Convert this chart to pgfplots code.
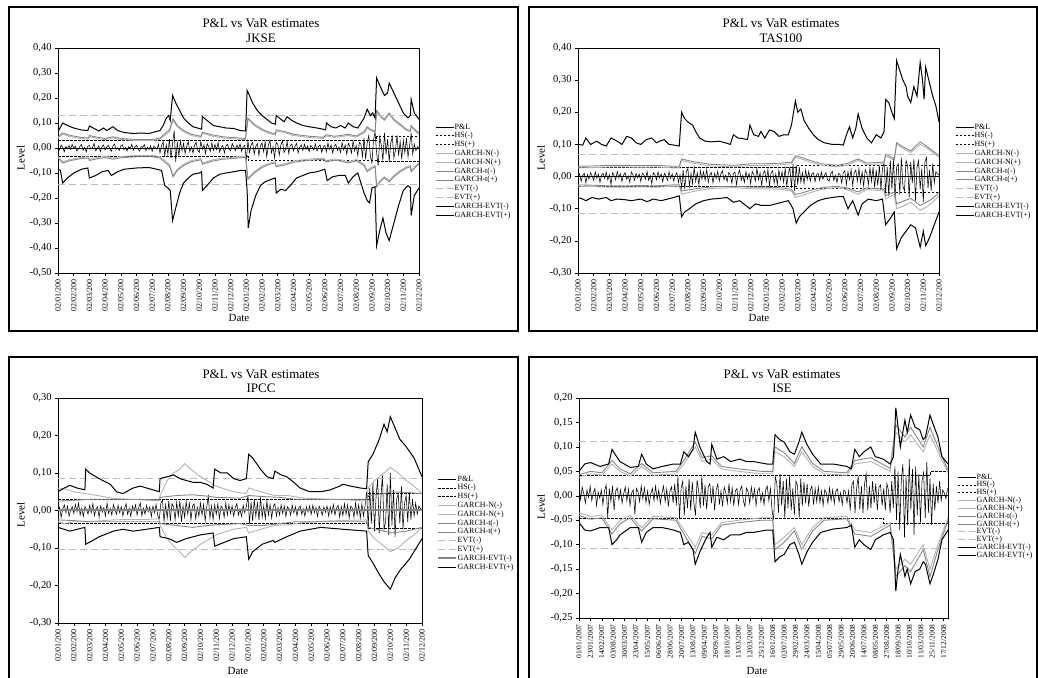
\documentclass[border=0pt]{standalone}
\usepackage{pgfplots}
\pgfplotsset{compat=1.18}
\usepackage{fontspec}
\setmainfont{Liberation Serif}
\definecolor{gN}{gray}{0.70}
\definecolor{gT}{gray}{0.52}
\definecolor{gE}{gray}{0.74}
\pgfplotsset{
  varstyle/.style={
    scale only axis,
    axis line style={black, line width=0.6bp},
    tick align=outside, major tick length=3bp,
    tick style={black, line width=0.5bp},
    xtick pos=bottom, ytick pos=left,
    yticklabel style={font=\fontsize{10.5}{12}\selectfont},
    xticklabel style={font=\fontsize{8}{9}\selectfont, rotate=90, anchor=east},
    legend style={draw=none, fill=none, font=\fontsize{8}{9}\selectfont, anchor=north west,
      row sep=0.6bp, inner sep=0pt, nodes={inner sep=0.6bp}},
    legend cell align=left,
    legend image code/.code={\draw[#1] (0bp,0bp) -- (18bp,0bp);},
    legend entries={P\&L,HS(-),HS(+),GARCH-N(-),GARCH-N(+),GARCH-t(-),GARCH-t(+),EVT(-),EVT(+),GARCH-EVT(-),GARCH-EVT(+)},
  },
  monthticks/.style={xmin=0, xmax=23, xtick={0,...,23},
    xticklabels={02/01/200,02/02/200,02/03/200,02/04/200,02/05/200,02/06/200,02/07/200,02/08/200,02/09/200,02/10/200,02/11/200,02/12/200,02/01/200,02/02/200,02/03/200,02/04/200,02/05/200,02/06/200,02/07/200,02/08/200,02/09/200,02/10/200,02/11/200,02/12/200}},
  pl/.style={black, line width=0.55bp},
  hs/.style={black, line width=0.7bp, dash pattern=on 2.5bp off 1.5bp},
  gn/.style={gN, line width=0.9bp},
  gt/.style={gT, line width=0.9bp},
  evt/.style={gE, line width=0.9bp, dash pattern=on 7bp off 4bp},
  ge/.style={black, line width=1bp},
  zl/.style={black, line width=0.7bp, forget plot},
}
\begin{document}
\begin{tikzpicture}
\useasboundingbox (0,0) rectangle (1038bp,678bp);
\clip (0,0) rectangle (1038bp,678bp);
% frames
\draw[line width=1.2bp] (9bp,671bp) rectangle (518bp,347bp);
\draw[line width=1.2bp] (529bp,671bp) rectangle (1037bp,347bp);
\draw[line width=1.2bp] (9bp,321bp) rectangle (518bp,-5bp);
\draw[line width=1.2bp] (529bp,321bp) rectangle (1037bp,-5bp);
% titles and labels
\begin{scope}[every node/.style={font=\fontsize{13}{15}\selectfont}]
\node at (261bp,655bp) {P\&L vs VaR estimates};
\node at (261bp,640bp) {JKSE};
\node at (781bp,655bp) {P\&L vs VaR estimates};
\node at (781bp,640bp) {TAS100};
\node at (261bp,304bp) {P\&L vs VaR estimates};
\node at (261bp,290bp) {IPCC};
\node at (782bp,304bp) {P\&L vs VaR estimates};
\node at (782bp,290bp) {ISE};
\end{scope}
\begin{scope}[every node/.style={font=\fontsize{11}{13}\selectfont}]
\node[rotate=90] at (21bp,520bp) {Level};
\node[rotate=90] at (541bp,520bp) {Level};
\node[rotate=90] at (21bp,163bp) {Level};
\node[rotate=90] at (541bp,171bp) {Level};
\node at (239bp,360bp) {Date};
\node at (759bp,360bp) {Date};
\node at (238bp,7.5bp) {Date};
\node at (757bp,7.5bp) {Date};
\end{scope}

%================ JKSE
\begin{axis}[varstyle, monthticks, at={(58bp,405bp)}, anchor=south west,
  width=361bp, height=225bp, ymin=-0.5, ymax=0.4,
  ytick={-0.5,-0.4,-0.3,-0.2,-0.1,0,0.1,0.2,0.3,0.4},
  yticklabels={{-0,50},{-0,40},{-0,30},{-0,20},{-0,10},{0,00},{0,10},{0,20},{0,30},{0,40}},
  legend style={at={(1.044,0.667)}}]
\addplot[zl] coordinates {(0,0) (23,0)};
\addplot[pl] table[row sep=crcr, header=false, x expr=\coordindex*0.1, y index=0] {
0.004\\-0.008\\0.012\\0.002\\-0.015\\0.006\\-0.003\\0.010\\-0.006\\0.015\\
-0.002\\0.008\\-0.012\\-0.004\\0.006\\0.014\\-0.009\\0.003\\-0.016\\0.007\\
0.010\\-0.005\\0.002\\0.018\\-0.011\\-0.003\\0.009\\-0.014\\0.005\\0.012\\
-0.008\\0.003\\0.011\\-0.002\\-0.013\\0.007\\0.016\\-0.006\\0.001\\-0.010\\
0.008\\0.013\\-0.007\\0.002\\-0.012\\0.005\\-0.003\\0.015\\-0.009\\0.004\\
0.011\\-0.004\\-0.012\\0.006\\0.002\\0.014\\-0.010\\0.003\\-0.006\\0.009\\
-0.013\\0.007\\0.002\\-0.005\\0.015\\-0.020\\0.010\\0.024\\-0.030\\0.012\\
-0.025\\0.035\\-0.040\\0.018\\0.070\\-0.055\\0.020\\-0.030\\0.028\\-0.012\\
0.018\\-0.022\\0.008\\0.025\\-0.015\\0.004\\-0.020\\0.012\\0.022\\-0.008\\
-0.018\\0.026\\-0.005\\0.012\\-0.022\\0.018\\0.006\\-0.014\\0.020\\-0.010\\
0.014\\-0.006\\0.022\\-0.016\\0.003\\0.010\\-0.020\\0.008\\0.015\\-0.005\\
-0.012\\0.018\\0.004\\-0.010\\0.012\\-0.003\\0.016\\-0.014\\0.006\\0.010\\
-0.050\\0.028\\-0.018\\0.012\\0.022\\-0.025\\0.006\\0.018\\-0.030\\0.010\\
0.020\\-0.015\\0.025\\-0.035\\0.010\\0.030\\-0.020\\0.005\\-0.040\\0.022\\
0.015\\-0.028\\0.012\\0.030\\-0.018\\-0.005\\0.025\\-0.022\\0.010\\0.016\\
-0.012\\0.006\\0.018\\-0.020\\0.004\\0.012\\-0.010\\0.015\\-0.006\\0.008\\
-0.014\\0.010\\0.003\\-0.008\\0.016\\-0.012\\0.006\\0.012\\-0.018\\0.004\\
0.010\\-0.015\\0.020\\-0.006\\0.012\\-0.020\\0.008\\0.015\\-0.010\\0.004\\
-0.018\\0.022\\-0.008\\0.012\\-0.025\\0.018\\0.005\\-0.020\\0.028\\-0.012\\
0.010\\-0.030\\0.022\\0.015\\-0.035\\0.040\\-0.045\\0.020\\0.050\\-0.030\\
-0.060\\0.030\\0.065\\-0.020\\-0.070\\0.045\\0.010\\-0.050\\0.060\\-0.025\\
0.035\\-0.055\\0.020\\0.045\\-0.040\\-0.010\\0.050\\-0.030\\0.025\\-0.045\\
0.030\\-0.020\\0.040\\-0.035\\0.010\\0.060\\-0.025\\0.015\\-0.010\\0.005\\
0.002\\};
\addplot[hs] coordinates {(0,-0.035) (12.1,-0.035) (12.1,-0.048) (20.3,-0.048) (20.3,-0.055) (23,-0.055)};
\addplot[hs] coordinates {(0,0.032) (20.3,0.032) (20.3,0.045) (23,0.045)};
\addplot[gn] coordinates {(0,-0.035) (0.3,-0.055) (0.8,-0.045) (1.5,-0.037) (1.95,-0.035) (2.0,-0.045) (2.5,-0.038) (3.0,-0.033) (3.5,-0.04) (4.0,-0.034) (5.0,-0.03) (6.0,-0.03) (6.5,-0.035) (6.9,-0.055) (7.1,-0.065) (7.33,-0.11) (7.6,-0.085) (8.0,-0.065) (8.5,-0.05) (9.1,-0.042) (9.2,-0.06) (9.8,-0.048) (10.5,-0.04) (11.5,-0.035) (11.95,-0.033) (12.1,-0.12) (12.5,-0.095) (13.0,-0.072) (13.5,-0.06) (13.85,-0.055) (13.9,-0.07) (14.5,-0.062) (15.0,-0.052) (16.0,-0.044) (16.9,-0.04) (17.1,-0.05) (17.6,-0.044) (18.0,-0.047) (18.5,-0.055) (19.0,-0.046) (19.5,-0.065) (19.7,-0.09) (19.9,-0.08) (20.2,-0.07) (20.3,-0.15) (20.6,-0.125) (20.8,-0.115) (21.1,-0.13) (21.4,-0.11) (21.8,-0.09) (22.2,-0.075) (22.45,-0.07) (22.5,-0.09) (22.8,-0.07) (23,-0.06)};
\addplot[gn] coordinates {(0,0.04) (0.3,0.055) (0.8,0.045) (1.5,0.037) (1.95,0.035) (2.0,0.045) (2.5,0.038) (3.0,0.033) (3.5,0.04) (4.0,0.034) (5.0,0.03) (6.0,0.03) (6.5,0.035) (6.9,0.055) (7.1,0.065) (7.33,0.11) (7.6,0.085) (8.0,0.065) (8.5,0.05) (9.1,0.042) (9.2,0.058) (9.8,0.048) (10.5,0.04) (11.5,0.035) (11.95,0.033) (12.1,0.115) (12.5,0.09) (13.0,0.07) (13.5,0.057) (13.85,0.052) (13.9,0.068) (14.5,0.06) (15.0,0.05) (16.0,0.042) (16.9,0.038) (17.1,0.048) (17.6,0.042) (18.0,0.045) (18.5,0.05) (19.0,0.043) (19.5,0.06) (19.7,0.08) (19.9,0.07) (20.2,0.062) (20.3,0.145) (20.6,0.12) (20.8,0.11) (21.1,0.135) (21.4,0.11) (21.8,0.09) (22.2,0.07) (22.45,0.065) (22.5,0.085) (22.8,0.065) (23,0.055)};
\addplot[gt] coordinates {(0,-0.04) (0.3,-0.06) (0.8,-0.05) (1.5,-0.042) (1.95,-0.04) (2.0,-0.05) (2.5,-0.043) (3.0,-0.038) (3.5,-0.045) (4.0,-0.039) (5.0,-0.035) (6.0,-0.035) (6.5,-0.04) (6.9,-0.062) (7.1,-0.072) (7.33,-0.115) (7.6,-0.09) (8.0,-0.07) (8.5,-0.055) (9.1,-0.047) (9.2,-0.065) (9.8,-0.053) (10.5,-0.045) (11.5,-0.04) (11.95,-0.038) (12.1,-0.125) (12.5,-0.1) (13.0,-0.078) (13.5,-0.065) (13.85,-0.06) (13.9,-0.075) (14.5,-0.067) (15.0,-0.057) (16.0,-0.049) (16.9,-0.045) (17.1,-0.055) (17.6,-0.049) (18.0,-0.052) (18.5,-0.06) (19.0,-0.051) (19.5,-0.07) (19.7,-0.095) (19.9,-0.085) (20.2,-0.075) (20.3,-0.155) (20.6,-0.13) (20.8,-0.12) (21.1,-0.135) (21.4,-0.115) (21.8,-0.095) (22.2,-0.08) (22.45,-0.075) (22.5,-0.095) (22.8,-0.075) (23,-0.065)};
\addplot[gt] coordinates {(0,0.045) (0.3,0.06) (0.8,0.05) (1.5,0.042) (1.95,0.04) (2.0,0.05) (2.5,0.043) (3.0,0.038) (3.5,0.045) (4.0,0.038) (5.0,0.034) (6.0,0.034) (6.5,0.04) (6.9,0.062) (7.1,0.072) (7.33,0.118) (7.6,0.09) (8.0,0.07) (8.5,0.055) (9.1,0.047) (9.2,0.063) (9.8,0.053) (10.5,0.045) (11.5,0.04) (11.95,0.038) (12.1,0.12) (12.5,0.095) (13.0,0.075) (13.5,0.062) (13.85,0.057) (13.9,0.073) (14.5,0.065) (15.0,0.055) (16.0,0.047) (16.9,0.043) (17.1,0.053) (17.6,0.047) (18.0,0.05) (18.5,0.055) (19.0,0.048) (19.5,0.065) (19.7,0.085) (19.9,0.075) (20.2,0.067) (20.3,0.15) (20.6,0.125) (20.8,0.115) (21.1,0.14) (21.4,0.115) (21.8,0.095) (22.2,0.075) (22.45,0.07) (22.5,0.09) (22.8,0.07) (23,0.06)};
\addplot[evt] coordinates {(0,-0.147) (23,-0.147)};
\addplot[evt] coordinates {(0,0.131) (23,0.131)};
\addplot[ge] coordinates {(0,-0.085) (0.15,-0.09) (0.3,-0.14) (0.6,-0.12) (1.0,-0.1) (1.5,-0.085) (1.9,-0.08) (2.0,-0.12) (2.4,-0.11) (2.8,-0.095) (3.2,-0.09) (3.4,-0.11) (3.8,-0.095) (4.2,-0.085) (5.0,-0.08) (5.8,-0.078) (6.3,-0.085) (6.6,-0.09) (6.8,-0.15) (7.0,-0.16) (7.15,-0.17) (7.3,-0.29) (7.5,-0.24) (7.75,-0.18) (8.0,-0.14) (8.3,-0.12) (8.6,-0.105) (9.0,-0.1) (9.15,-0.095) (9.2,-0.17) (9.5,-0.15) (9.9,-0.12) (10.3,-0.105) (10.7,-0.1) (11.2,-0.095) (11.6,-0.09) (11.95,-0.09) (12.05,-0.17) (12.12,-0.32) (12.3,-0.25) (12.6,-0.19) (12.9,-0.15) (13.2,-0.135) (13.6,-0.125) (13.85,-0.12) (13.9,-0.18) (14.2,-0.165) (14.5,-0.17) (14.8,-0.15) (15.2,-0.12) (15.6,-0.11) (16.0,-0.1) (16.5,-0.095) (17.0,-0.085) (17.15,-0.13) (17.5,-0.115) (17.9,-0.11) (18.3,-0.11) (18.5,-0.14) (18.8,-0.115) (19.1,-0.1) (19.3,-0.14) (19.5,-0.18) (19.7,-0.21) (19.85,-0.22) (20.0,-0.16) (20.2,-0.155) (20.3,-0.39) (20.5,-0.33) (20.7,-0.28) (20.9,-0.34) (21.1,-0.37) (21.4,-0.3) (21.7,-0.23) (22.0,-0.17) (22.3,-0.15) (22.45,-0.16) (22.5,-0.27) (22.7,-0.19) (23.0,-0.16)};
\addplot[ge] coordinates {(0,0.065) (0.3,0.10) (0.6,0.09) (1.0,0.08) (1.5,0.072) (1.9,0.07) (2.0,0.088) (2.3,0.078) (2.6,0.068) (2.9,0.08) (3.1,0.07) (3.5,0.085) (3.8,0.07) (4.2,0.062) (4.8,0.058) (5.3,0.06) (5.8,0.058) (6.2,0.065) (6.5,0.07) (6.7,0.09) (6.9,0.12) (7.05,0.13) (7.15,0.11) (7.3,0.21) (7.5,0.18) (7.75,0.15) (8.0,0.12) (8.3,0.1) (8.6,0.085) (9.0,0.078) (9.15,0.075) (9.2,0.125) (9.5,0.11) (9.9,0.09) (10.3,0.085) (10.7,0.08) (11.2,0.078) (11.6,0.07) (11.95,0.068) (12.05,0.23) (12.2,0.21) (12.4,0.18) (12.7,0.15) (13.0,0.13) (13.3,0.115) (13.6,0.1) (13.85,0.095) (13.9,0.13) (14.2,0.115) (14.4,0.105) (14.6,0.125) (14.9,0.11) (15.2,0.1) (15.6,0.09) (16.0,0.085) (16.5,0.08) (16.9,0.075) (17.05,0.072) (17.1,0.1) (17.4,0.085) (17.7,0.08) (18.0,0.09) (18.3,0.08) (18.5,0.1) (18.8,0.085) (19.1,0.08) (19.3,0.1) (19.5,0.12) (19.7,0.155) (19.9,0.13) (20.05,0.14) (20.2,0.12) (20.3,0.28) (20.5,0.25) (20.8,0.21) (21.0,0.22) (21.1,0.26) (21.4,0.22) (21.7,0.18) (22.0,0.14) (22.3,0.12) (22.45,0.13) (22.5,0.195) (22.7,0.14) (23.0,0.115)};
\end{axis}

%================ TAS100
\begin{axis}[varstyle, monthticks, at={(578bp,405bp)}, anchor=south west,
  width=361bp, height=225bp, ymin=-0.3, ymax=0.4,
  ytick={-0.3,-0.2,-0.1,0,0.1,0.2,0.3,0.4},
  yticklabels={{-0,30},{-0,20},{-0,10},{0,00},{0,10},{0,20},{0,30},{0,40}},
  legend style={at={(1.044,0.667)}}]
\addplot[zl] coordinates {(0,0) (23,0)};
\addplot[pl] table[row sep=crcr, header=false, x expr=\coordindex*0.1, y index=0] {
-0.003\\0.008\\-0.015\\0.004\\0.010\\-0.020\\0.006\\-0.008\\0.012\\0.002\\
-0.012\\0.015\\-0.005\\0.008\\-0.018\\0.004\\0.010\\-0.006\\0.014\\-0.010\\
0.006\\-0.025\\0.012\\0.003\\-0.010\\0.016\\-0.004\\0.009\\-0.015\\0.005\\
0.012\\-0.008\\0.002\\-0.018\\0.014\\0.006\\-0.012\\0.010\\-0.004\\0.008\\
-0.015\\0.010\\0.005\\-0.008\\0.016\\-0.012\\0.003\\-0.022\\0.012\\0.006\\
-0.010\\0.014\\-0.004\\0.008\\-0.016\\0.010\\0.002\\-0.012\\0.015\\-0.006\\
0.009\\-0.014\\0.004\\0.012\\-0.018\\0.006\\-0.035\\0.020\\-0.040\\0.015\\
0.025\\-0.030\\0.010\\-0.022\\0.028\\-0.015\\0.012\\-0.025\\0.018\\-0.008\\
0.015\\-0.012\\0.022\\-0.018\\0.006\\0.012\\-0.020\\0.010\\-0.006\\0.016\\
-0.014\\0.008\\0.018\\-0.010\\0.004\\-0.016\\0.012\\0.006\\-0.020\\0.010\\
0.014\\-0.025\\0.008\\0.020\\-0.012\\0.004\\-0.018\\0.015\\-0.008\\0.010\\
-0.022\\0.016\\0.006\\-0.014\\0.025\\-0.010\\0.012\\-0.028\\0.010\\0.018\\
-0.015\\0.022\\-0.030\\0.012\\0.018\\-0.020\\0.008\\-0.025\\0.020\\-0.010\\
0.015\\-0.018\\0.025\\-0.030\\0.010\\0.028\\-0.035\\0.040\\-0.045\\0.035\\
-0.025\\0.030\\-0.018\\0.012\\-0.022\\0.020\\-0.010\\0.016\\-0.014\\0.008\\
0.012\\-0.016\\0.006\\0.010\\-0.012\\0.014\\-0.008\\0.004\\0.012\\-0.010\\
-0.014\\0.008\\0.016\\-0.012\\0.004\\-0.018\\0.010\\0.006\\-0.020\\0.012\\
0.018\\-0.025\\0.015\\-0.010\\0.022\\-0.028\\0.012\\0.020\\-0.015\\0.025\\
-0.020\\0.015\\-0.030\\0.022\\0.010\\-0.025\\0.028\\-0.015\\0.030\\-0.035\\
0.020\\-0.028\\0.035\\-0.040\\0.025\\0.045\\-0.050\\0.030\\-0.060\\0.050\\
-0.040\\0.055\\-0.070\\0.030\\0.040\\-0.055\\0.060\\-0.030\\-0.045\\0.050\\
0.035\\-0.065\\0.045\\-0.020\\0.055\\-0.075\\0.030\\0.050\\-0.040\\0.025\\
-0.080\\0.045\\0.060\\-0.035\\0.020\\-0.045\\0.040\\-0.020\\0.015\\0.008\\
0.005\\};
\addplot[hs] coordinates {(0,-0.03) (13.9,-0.03) (13.9,-0.037) (19.6,-0.037) (19.6,-0.05) (23,-0.05)};
\addplot[hs] coordinates {(0,0.03) (13.9,0.03) (13.9,0.034) (23,0.034)};
\addplot[gn] coordinates {(0,-0.03) (1,-0.031) (2,-0.033) (3,-0.033) (4,-0.032) (5,-0.033) (6,-0.03) (6.45,-0.03) (6.6,-0.055) (7.0,-0.05) (7.5,-0.045) (8.5,-0.037) (10,-0.034) (11,-0.038) (12,-0.038) (13,-0.04) (13.6,-0.045) (13.85,-0.065) (14.2,-0.06) (14.8,-0.05) (15.5,-0.04) (16.5,-0.034) (17.1,-0.04) (17.85,-0.055) (18.4,-0.04) (19.5,-0.045) (19.6,-0.07) (20.15,-0.055) (20.3,-0.1) (20.8,-0.09) (21.2,-0.08) (21.8,-0.105) (22.2,-0.095) (22.6,-0.08) (23,-0.06)};
\addplot[gn] coordinates {(0,0.027) (1,0.028) (2,0.03) (3,0.03) (4,0.029) (5,0.03) (6,0.027) (6.45,0.027) (6.6,0.05) (7.0,0.045) (7.5,0.04) (8.5,0.033) (10,0.03) (11,0.035) (12,0.035) (13,0.037) (13.6,0.04) (13.85,0.06) (14.2,0.055) (14.8,0.045) (15.5,0.035) (16.5,0.03) (17.1,0.035) (17.85,0.05) (18.4,0.037) (19.5,0.04) (19.6,0.065) (20.15,0.05) (20.3,0.1) (20.8,0.085) (21.2,0.075) (21.8,0.1) (22.2,0.09) (22.6,0.075) (23,0.06)};
\addplot[gt] coordinates {(0,-0.026) (1,-0.027) (2,-0.029) (3,-0.029) (4,-0.028) (5,-0.029) (6,-0.026) (6.45,-0.026) (6.6,-0.045) (7.0,-0.042) (7.5,-0.038) (8.5,-0.032) (10,-0.03) (11,-0.033) (12,-0.033) (13,-0.035) (13.6,-0.04) (13.85,-0.056) (14.2,-0.052) (14.8,-0.043) (15.5,-0.035) (16.5,-0.03) (17.1,-0.035) (17.85,-0.048) (18.4,-0.035) (19.5,-0.04) (19.6,-0.06) (20.15,-0.048) (20.3,-0.085) (20.8,-0.075) (21.2,-0.068) (21.8,-0.09) (22.2,-0.08) (22.6,-0.068) (23,-0.05)};
\addplot[gt] coordinates {(0,0.032) (1,0.033) (2,0.035) (3,0.035) (4,0.034) (5,0.035) (6,0.032) (6.45,0.032) (6.6,0.055) (7.0,0.05) (7.5,0.045) (8.5,0.038) (10,0.035) (11,0.04) (12,0.04) (13,0.042) (13.6,0.045) (13.85,0.065) (14.2,0.06) (14.8,0.05) (15.5,0.04) (16.5,0.035) (17.1,0.04) (17.85,0.055) (18.4,0.042) (19.5,0.045) (19.6,0.07) (20.15,0.055) (20.3,0.105) (20.8,0.09) (21.2,0.08) (21.8,0.108) (22.2,0.095) (22.6,0.08) (23,0.065)};
\addplot[evt] coordinates {(0,-0.115) (23,-0.115)};
\addplot[evt] coordinates {(0,0.07) (23,0.07)};
\addplot[ge] coordinates {(0,-0.065) (0.3,-0.07) (0.5,-0.075) (0.9,-0.065) (1.3,-0.07) (1.8,-0.065) (2.1,-0.075) (2.5,-0.07) (3.0,-0.072) (3.4,-0.075) (4.0,-0.07) (4.4,-0.078) (4.8,-0.07) (5.3,-0.075) (5.7,-0.07) (6.1,-0.065) (6.45,-0.06) (6.6,-0.125) (6.8,-0.11) (7.1,-0.1) (7.5,-0.085) (8.0,-0.075) (8.5,-0.07) (9.0,-0.068) (9.5,-0.065) (9.9,-0.08) (10.3,-0.075) (10.95,-0.1) (11.3,-0.085) (11.7,-0.09) (12.2,-0.09) (12.6,-0.085) (13.0,-0.08) (13.4,-0.075) (13.7,-0.1) (13.9,-0.145) (14.1,-0.125) (14.4,-0.11) (14.8,-0.09) (15.3,-0.075) (15.8,-0.068) (16.5,-0.063) (16.9,-0.062) (17.2,-0.1) (17.5,-0.075) (17.85,-0.12) (18.1,-0.085) (18.5,-0.07) (19.0,-0.075) (19.4,-0.07) (19.6,-0.15) (19.9,-0.13) (20.15,-0.11) (20.3,-0.225) (20.6,-0.19) (20.9,-0.17) (21.2,-0.15) (21.5,-0.16) (21.8,-0.22) (22.0,-0.17) (22.15,-0.215) (22.4,-0.19) (22.7,-0.15) (23.0,-0.11)};
\addplot[ge] coordinates {(0,0.10) (0.3,0.098) (0.5,0.12) (0.8,0.10) (1.2,0.11) (1.5,0.1) (1.8,0.095) (2.1,0.12) (2.5,0.11) (2.8,0.1) (3.1,0.125) (3.4,0.12) (3.7,0.105) (4.0,0.1) (4.35,0.115) (4.7,0.12) (5.0,0.105) (5.2,0.11) (5.5,0.115) (5.8,0.1) (6.1,0.098) (6.45,0.095) (6.6,0.2) (6.8,0.18) (7.0,0.17) (7.3,0.16) (7.5,0.14) (7.75,0.12) (8.1,0.11) (8.5,0.108) (9.0,0.11) (9.4,0.105) (9.7,0.1) (9.9,0.13) (10.2,0.12) (10.5,0.118) (10.8,0.115) (10.95,0.16) (11.2,0.13) (11.5,0.125) (11.65,0.14) (11.9,0.12) (12.2,0.145) (12.5,0.14) (12.8,0.125) (13.1,0.13) (13.4,0.13) (13.6,0.16) (13.85,0.235) (14.0,0.2) (14.2,0.21) (14.4,0.175) (14.7,0.15) (15.0,0.13) (15.3,0.115) (15.7,0.105) (16.2,0.1) (16.6,0.1) (16.9,0.098) (17.1,0.13) (17.3,0.155) (17.5,0.12) (17.7,0.15) (17.85,0.195) (18.1,0.15) (18.4,0.12) (18.7,0.105) (19.0,0.13) (19.3,0.12) (19.5,0.14) (19.6,0.24) (19.8,0.23) (20.0,0.2) (20.15,0.18) (20.3,0.36) (20.5,0.33) (20.7,0.3) (20.9,0.28) (21.0,0.25) (21.2,0.23) (21.4,0.28) (21.6,0.25) (21.8,0.355) (21.95,0.3) (22.05,0.24) (22.15,0.34) (22.4,0.29) (22.6,0.25) (22.8,0.22) (23.0,0.17)};
\end{axis}

%================ IPCC
\begin{axis}[varstyle, monthticks, at={(58bp,55bp)}, anchor=south west,
  width=364bp, height=225bp, ymin=-0.3, ymax=0.3,
  ytick={-0.3,-0.2,-0.1,0,0.1,0.2,0.3},
  yticklabels={{-0,30},{-0,20},{-0,10},{0,00},{0,10},{0,20},{0,30}},
  legend style={at={(1.041,0.658)}}]
\addplot[pl] table[row sep=crcr, header=false, x expr=\coordindex*0.1, y index=0] {
-0.012\\0.008\\-0.018\\0.004\\0.015\\-0.006\\0.012\\-0.015\\0.002\\0.010\\
-0.008\\0.016\\-0.004\\0.020\\-0.012\\0.006\\-0.016\\0.010\\0.003\\-0.010\\
0.014\\-0.006\\0.018\\-0.014\\0.004\\0.010\\-0.018\\0.012\\-0.004\\0.008\\
-0.015\\0.020\\-0.008\\0.006\\-0.012\\0.016\\0.002\\-0.010\\0.014\\-0.006\\
0.010\\-0.014\\0.004\\0.018\\-0.010\\0.006\\-0.016\\0.012\\-0.002\\0.015\\
-0.012\\0.008\\0.020\\-0.014\\0.006\\-0.010\\0.014\\-0.004\\0.010\\-0.016\\
0.012\\-0.006\\0.016\\-0.012\\-0.025\\0.020\\0.028\\-0.030\\0.015\\-0.020\\
0.025\\-0.028\\0.018\\0.010\\-0.025\\0.022\\-0.015\\0.026\\-0.030\\0.012\\
-0.018\\0.024\\-0.010\\0.020\\-0.025\\0.012\\0.018\\-0.022\\0.008\\-0.015\\
0.020\\-0.012\\0.016\\-0.028\\0.010\\0.038\\-0.020\\0.012\\-0.025\\0.015\\
-0.010\\0.018\\-0.022\\0.012\\0.006\\-0.018\\0.020\\-0.012\\0.015\\-0.008\\
0.012\\-0.015\\0.008\\0.018\\-0.012\\0.004\\-0.016\\0.014\\-0.006\\0.010\\
0.040\\-0.035\\0.022\\-0.028\\0.030\\-0.015\\0.020\\-0.025\\0.035\\-0.018\\
0.012\\-0.022\\0.025\\-0.012\\0.016\\-0.020\\0.010\\0.018\\-0.015\\0.008\\
-0.012\\0.015\\-0.008\\0.012\\-0.016\\0.010\\0.004\\-0.012\\0.014\\-0.006\\
0.010\\-0.014\\0.006\\0.012\\-0.010\\0.004\\-0.015\\0.010\\-0.004\\0.012\\
-0.010\\0.014\\-0.006\\0.008\\-0.016\\0.012\\0.002\\-0.012\\0.010\\-0.005\\
0.012\\-0.015\\0.010\\-0.008\\0.016\\-0.012\\0.006\\0.014\\-0.018\\0.010\\
-0.014\\0.018\\-0.010\\0.015\\-0.020\\0.012\\0.006\\-0.018\\0.020\\-0.012\\
0.015\\-0.020\\0.018\\-0.015\\0.012\\0.050\\-0.045\\0.060\\-0.035\\0.075\\
-0.055\\0.040\\0.085\\-0.060\\0.030\\0.095\\-0.050\\-0.030\\0.070\\-0.065\\
0.100\\-0.040\\0.055\\-0.070\\0.030\\0.045\\-0.035\\0.065\\-0.050\\0.020\\
0.040\\-0.030\\0.050\\-0.025\\0.030\\-0.015\\0.020\\-0.010\\0.012\\0.005\\
0.003\\};
\addplot[hs] coordinates {(0,-0.033) (19.6,-0.033) (19.6,-0.048) (23,-0.048)};
\addplot[hs] coordinates {(0,0.03) (19.6,0.03) (19.6,0.046) (23,0.046)};
\addplot[gn] coordinates {(0,-0.03) (0.4,-0.035) (1.0,-0.03) (1.75,-0.03) (2.5,-0.028) (3.5,-0.025) (4.5,-0.024) (5.5,-0.024) (6.4,-0.022) (6.45,-0.04) (6.9,-0.075) (7.3,-0.095) (7.7,-0.11) (8.0,-0.125) (8.4,-0.11) (9.0,-0.09) (9.6,-0.075) (10.0,-0.065) (10.7,-0.055) (11.1,-0.05) (11.9,-0.045) (12.05,-0.06) (12.8,-0.05) (13.7,-0.04) (14.5,-0.038) (15.5,-0.032) (17,-0.028) (18.5,-0.026) (19.5,-0.025) (19.6,-0.055) (20.0,-0.075) (20.6,-0.095) (21.0,-0.11) (21.5,-0.1) (22.0,-0.08) (22.5,-0.065) (23,-0.045)};
\addplot[gn] coordinates {(0,0.06) (0.4,0.058) (1.0,0.05) (1.75,0.045) (2.5,0.04) (3.5,0.032) (4.5,0.03) (5.5,0.028) (6.4,0.026) (6.45,0.04) (6.9,0.08) (7.3,0.1) (7.7,0.11) (8.0,0.125) (8.4,0.11) (9.0,0.09) (9.6,0.075) (10.0,0.065) (10.7,0.055) (11.1,0.05) (11.9,0.045) (12.05,0.06) (12.8,0.05) (13.7,0.04) (14.5,0.04) (15.5,0.033) (17,0.03) (18.5,0.028) (19.5,0.025) (19.6,0.06) (20.0,0.08) (20.6,0.1) (21.0,0.115) (21.5,0.1) (22.0,0.08) (22.5,0.065) (23,0.045)};
\addplot[gt] coordinates {(0,-0.025) (1,-0.027) (2,-0.03) (3,-0.03) (4,-0.03) (5,-0.03) (6.4,-0.03) (6.45,-0.035) (7.5,-0.04) (8.5,-0.045) (9.5,-0.04) (10,-0.038) (11.5,-0.035) (12.05,-0.04) (13,-0.04) (14,-0.035) (15,-0.03) (16,-0.03) (18,-0.03) (19.5,-0.03) (19.6,-0.045) (20.6,-0.055) (21,-0.06) (22,-0.055) (23,-0.045)};
\addplot[gt] coordinates {(0,0.025) (1,0.027) (2,0.03) (3,0.03) (4,0.03) (5,0.03) (6.4,0.028) (6.45,0.035) (7.5,0.04) (8.5,0.042) (9.5,0.038) (10,0.035) (11.5,0.033) (12.05,0.04) (13,0.037) (14,0.035) (15,0.03) (16,0.03) (18,0.03) (19.5,0.03) (19.6,0.04) (20.6,0.045) (21,0.05) (22,0.048) (23,0.045)};
\addplot[evt] coordinates {(0,-0.104) (23,-0.104)};
\addplot[evt] coordinates {(0,0.086) (23,0.086)};
\addplot[gT, line width=2bp] coordinates {(0,0) (23,0)};
\addplot[ge] coordinates {(0,0.05) (0.4,0.06) (0.75,0.067) (1.2,0.06) (1.7,0.055) (1.75,0.11) (2.0,0.1) (2.6,0.085) (3.3,0.07) (3.7,0.05) (4.1,0.045) (4.75,0.06) (5.2,0.065) (5.6,0.06) (6.0,0.055) (6.4,0.05) (6.45,0.085) (6.9,0.09) (7.3,0.095) (7.7,0.085) (8.1,0.08) (8.55,0.075) (9.0,0.075) (9.4,0.07) (9.8,0.06) (9.9,0.11) (10.3,0.1) (10.7,0.1) (11.1,0.085) (11.5,0.08) (11.9,0.085) (12.05,0.15) (12.3,0.14) (12.8,0.11) (13.2,0.09) (13.6,0.085) (13.7,0.105) (14.1,0.095) (14.45,0.09) (14.9,0.075) (15.3,0.06) (15.9,0.05) (16.6,0.05) (17.2,0.055) (17.8,0.065) (18.0,0.07) (18.5,0.065) (19.1,0.06) (19.5,0.058) (19.6,0.13) (19.9,0.15) (20.3,0.19) (20.6,0.23) (20.8,0.21) (21.0,0.25) (21.3,0.22) (21.6,0.19) (22.0,0.17) (22.5,0.14) (23,0.09)};
\addplot[ge] coordinates {(0,-0.045) (0.75,-0.055) (1.7,-0.045) (1.75,-0.09) (2.2,-0.08) (2.6,-0.07) (3.5,-0.055) (4.1,-0.05) (4.75,-0.055) (5.6,-0.05) (6.4,-0.045) (6.45,-0.07) (7.0,-0.075) (7.5,-0.085) (8.1,-0.075) (9.0,-0.065) (9.8,-0.06) (9.9,-0.095) (10.5,-0.085) (11.1,-0.075) (11.9,-0.07) (12.05,-0.13) (12.3,-0.11) (12.9,-0.09) (13.6,-0.08) (13.7,-0.085) (14.45,-0.07) (15.3,-0.055) (16.6,-0.045) (18.0,-0.05) (19.5,-0.055) (19.6,-0.12) (19.9,-0.14) (20.3,-0.17) (20.6,-0.19) (21.0,-0.21) (21.3,-0.18) (21.6,-0.16) (22.2,-0.13) (23,-0.075)};
\end{axis}

%================ ISE
\begin{axis}[varstyle, at={(579bp,60bp)}, anchor=south west,
  width=369bp, height=220bp, ymin=-0.25, ymax=0.2, xmin=0, xmax=32.38,
  xtick={0,...,32},
  xticklabels={01/01/2007,23/01/2007,14/02/2007,03/08/2007,30/03/2007,23/04/2007,15/05/2007,06/06/2007,28/06/2007,20/07/2007,13/08/2007,09/04/2007,26/09/2007,18/10/2007,11/03/2007,12/03/2007,25/12/2007,16/01/2008,02/07/2008,29/02/2008,24/03/2008,15/04/2008,05/07/2008,29/05/2008,20/06/2008,14/07/2008,08/05/2008,27/08/2008,18/09/2008,10/10/2008,11/03/2008,25/11/2008,17/12/2008},
  xticklabel style={font=\fontsize{7.5}{8}\selectfont},
  ytick={-0.25,-0.2,-0.15,-0.1,-0.05,0,0.05,0.1,0.15,0.2},
  yticklabels={{-0,25},{-0,20},{-0,15},{-0,10},{-0,05},{0,00},{0,05},{0,10},{0,15},{0,20}},
  legend style={at={(1.024,0.659)}, row sep=-0.4bp}]
\addplot[zl] coordinates {(0,0) (32.38,0)};
\addplot[pl] table[row sep=crcr, header=false, x expr=\coordindex*0.14, y index=0] {
0.025\\-0.008\\0.018\\0.004\\-0.015\\0.012\\-0.003\\0.020\\-0.010\\0.006\\
0.015\\-0.020\\0.008\\-0.005\\0.012\\-0.018\\0.010\\0.022\\-0.045\\0.015\\
-0.012\\0.020\\-0.030\\0.010\\0.016\\-0.008\\0.012\\-0.015\\0.004\\0.018\\
-0.010\\0.014\\-0.020\\0.006\\0.012\\-0.038\\0.015\\0.008\\-0.012\\0.020\\
-0.006\\0.016\\-0.014\\0.010\\-0.018\\0.004\\0.015\\-0.010\\0.020\\-0.008\\
0.012\\-0.016\\0.006\\0.020\\-0.012\\0.014\\-0.022\\0.010\\0.018\\-0.015\\
0.025\\-0.020\\0.040\\-0.045\\0.015\\0.030\\-0.040\\0.020\\-0.025\\0.035\\
-0.030\\0.028\\-0.015\\-0.040\\0.032\\0.010\\-0.025\\0.040\\-0.020\\0.022\\
-0.028\\0.018\\0.025\\-0.015\\0.020\\-0.030\\0.012\\0.024\\-0.018\\0.010\\
-0.022\\0.018\\0.006\\-0.015\\0.025\\-0.012\\0.016\\-0.020\\0.010\\0.015\\
-0.018\\0.012\\0.020\\-0.010\\-0.022\\0.016\\0.008\\-0.015\\0.018\\-0.006\\
0.014\\-0.020\\0.010\\0.016\\-0.012\\0.006\\-0.018\\0.012\\0.020\\-0.010\\
0.015\\-0.030\\-0.050\\0.040\\0.025\\-0.035\\0.045\\-0.020\\0.030\\-0.045\\
0.035\\-0.025\\0.040\\-0.030\\0.015\\-0.040\\0.030\\0.020\\-0.045\\0.035\\
-0.020\\0.028\\-0.015\\0.025\\-0.022\\0.012\\0.020\\-0.018\\0.015\\-0.012\\
0.018\\-0.014\\0.010\\-0.020\\0.012\\0.006\\-0.015\\0.016\\-0.010\\0.012\\
-0.016\\0.010\\0.014\\-0.012\\0.006\\-0.018\\0.012\\0.008\\-0.014\\0.010\\
-0.030\\0.022\\0.030\\-0.035\\0.015\\0.040\\-0.028\\0.020\\-0.035\\0.025\\
0.045\\-0.030\\0.020\\-0.025\\0.030\\-0.015\\0.025\\-0.030\\0.018\\0.022\\
-0.020\\0.015\\-0.030\\0.025\\0.010\\-0.035\\0.030\\-0.025\\0.060\\-0.050\\
0.050\\-0.070\\0.030\\0.065\\-0.085\\0.040\\-0.060\\0.075\\-0.030\\0.055\\
-0.080\\0.060\\-0.040\\0.045\\-0.055\\0.030\\0.050\\-0.045\\0.070\\-0.035\\
0.035\\-0.060\\0.025\\-0.030\\0.020\\-0.015\\0.030\\-0.010\\0.012\\0.005\\
-0.006\\0.015\\};
\addplot[hs] coordinates {(0,-0.046) (26.7,-0.046) (26.7,-0.056) (32.38,-0.056)};
\addplot[hs] coordinates {(0,0.041) (30.8,0.041) (30.8,0.049) (32.38,0.049)};
\addplot[gn] coordinates {(0,-0.035) (1,-0.042) (2,-0.04) (2.9,-0.07) (3.6,-0.05) (4.5,-0.04) (5.5,-0.065) (6.5,-0.042) (8.5,-0.045) (9.2,-0.07) (10.2,-0.105) (10.8,-0.075) (11.65,-0.08) (12.5,-0.055) (14,-0.05) (16,-0.045) (17.0,-0.045) (17.2,-0.1) (18.0,-0.085) (18.9,-0.065) (19.55,-0.1) (20.5,-0.065) (21.5,-0.045) (23.5,-0.042) (24.2,-0.07) (25.6,-0.075) (27.3,-0.055) (27.8,-0.15) (28.6,-0.13) (29.1,-0.14) (30.2,-0.1) (30.8,-0.15) (31.5,-0.1) (32.38,-0.045)};
\addplot[gn] coordinates {(0,0.038) (1,0.045) (2,0.042) (2.9,0.065) (3.6,0.05) (4.5,0.04) (5.5,0.06) (6.5,0.042) (8.5,0.045) (9.2,0.065) (10.2,0.1) (10.8,0.07) (11.65,0.075) (12.5,0.055) (14,0.05) (16,0.045) (17.0,0.045) (17.2,0.09) (18.0,0.08) (18.9,0.06) (19.55,0.09) (20.5,0.06) (21.5,0.045) (23.5,0.042) (24.2,0.065) (25.6,0.07) (27.3,0.05) (27.8,0.13) (28.6,0.11) (29.1,0.125) (30.2,0.09) (30.8,0.125) (31.5,0.09) (32.38,0.047)};
\addplot[gt] coordinates {(0,-0.04) (1,-0.048) (2,-0.045) (2.9,-0.078) (3.6,-0.057) (4.5,-0.045) (5.5,-0.072) (6.5,-0.047) (8.5,-0.05) (9.2,-0.078) (10.2,-0.118) (10.8,-0.083) (11.65,-0.088) (12.5,-0.06) (14,-0.055) (16,-0.05) (17.0,-0.05) (17.2,-0.11) (18.0,-0.095) (18.9,-0.072) (19.55,-0.11) (20.5,-0.072) (21.5,-0.05) (23.5,-0.047) (24.2,-0.078) (25.6,-0.083) (27.3,-0.06) (27.8,-0.165) (28.6,-0.143) (29.1,-0.155) (30.2,-0.11) (30.8,-0.165) (31.5,-0.11) (32.38,-0.05)};
\addplot[gt] coordinates {(0,0.043) (1,0.05) (2,0.047) (2.9,0.072) (3.6,0.055) (4.5,0.045) (5.5,0.066) (6.5,0.047) (8.5,0.05) (9.2,0.072) (10.2,0.11) (10.8,0.078) (11.65,0.082) (12.5,0.06) (14,0.055) (16,0.05) (17.0,0.05) (17.2,0.1) (18.0,0.088) (18.9,0.066) (19.55,0.1) (20.5,0.066) (21.5,0.05) (23.5,0.047) (24.2,0.072) (25.6,0.078) (27.3,0.056) (27.8,0.145) (28.6,0.12) (29.1,0.14) (30.2,0.1) (30.8,0.14) (31.5,0.1) (32.38,0.052)};
\addplot[evt] coordinates {(0,-0.107) (32.38,-0.107)};
\addplot[evt] coordinates {(0,0.111) (32.38,0.111)};
\addplot[ge] coordinates {(0,-0.055) (0.5,-0.07) (1.0,-0.072) (1.85,-0.065) (2.6,-0.065) (2.9,-0.1) (3.3,-0.09) (3.6,-0.08) (4.5,-0.065) (5.2,-0.065) (5.5,-0.095) (5.9,-0.075) (6.5,-0.065) (7.3,-0.065) (8.3,-0.07) (8.9,-0.075) (9.2,-0.1) (9.6,-0.095) (10.0,-0.11) (10.2,-0.14) (10.6,-0.115) (11.2,-0.085) (11.5,-0.075) (11.65,-0.105) (12.1,-0.085) (12.7,-0.09) (13.3,-0.08) (14.1,-0.08) (14.7,-0.075) (15.3,-0.075) (16.5,-0.07) (17.0,-0.07) (17.2,-0.135) (17.6,-0.125) (18.0,-0.12) (18.5,-0.1) (18.9,-0.095) (19.3,-0.12) (19.55,-0.14) (20.0,-0.115) (20.5,-0.095) (21.2,-0.075) (22.3,-0.068) (23.5,-0.065) (23.9,-0.06) (24.2,-0.105) (24.6,-0.09) (25.0,-0.1) (25.6,-0.11) (26.0,-0.09) (26.7,-0.08) (27.3,-0.075) (27.6,-0.09) (27.8,-0.195) (28.0,-0.15) (28.2,-0.12) (28.6,-0.165) (28.8,-0.15) (29.1,-0.18) (29.5,-0.155) (29.9,-0.15) (30.2,-0.135) (30.4,-0.14) (30.8,-0.18) (31.1,-0.16) (31.5,-0.13) (31.85,-0.09) (32.38,-0.07)};
\addplot[ge] coordinates {(0,0.05) (0.5,0.065) (1.0,0.068) (1.85,0.06) (2.6,0.065) (2.9,0.095) (3.3,0.08) (3.6,0.07) (4.5,0.058) (5.2,0.06) (5.5,0.085) (5.9,0.065) (6.5,0.055) (7.3,0.06) (8.3,0.065) (8.9,0.065) (9.2,0.09) (9.6,0.08) (10.0,0.095) (10.2,0.13) (10.6,0.1) (11.2,0.07) (11.5,0.065) (11.65,0.105) (12.1,0.075) (12.7,0.08) (13.3,0.07) (14.1,0.075) (14.7,0.07) (15.3,0.07) (16.5,0.065) (17.0,0.065) (17.2,0.125) (17.6,0.115) (18.0,0.11) (18.5,0.09) (18.9,0.085) (19.3,0.11) (19.55,0.13) (20.0,0.105) (20.5,0.085) (21.2,0.065) (22.3,0.065) (23.5,0.06) (23.9,0.055) (24.2,0.095) (24.6,0.08) (25.0,0.09) (25.6,0.1) (26.0,0.08) (26.7,0.075) (27.3,0.065) (27.6,0.08) (27.8,0.18) (28.0,0.14) (28.2,0.1) (28.6,0.155) (28.8,0.13) (29.1,0.165) (29.5,0.14) (29.9,0.135) (30.2,0.115) (30.4,0.12) (30.8,0.165) (31.1,0.145) (31.5,0.12) (31.85,0.08) (32.38,0.065)};
\end{axis}
\end{tikzpicture}
\end{document}
